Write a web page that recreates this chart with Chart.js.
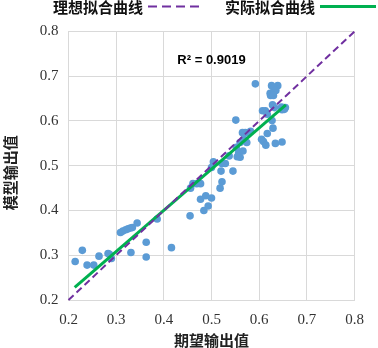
<!DOCTYPE html>
<html>
<head>
<meta charset="utf-8">
<script src="https://cdn.jsdelivr.net/npm/chart.js@4/dist/chart.umd.min.js"></script>
<style>
html,body{margin:0;padding:0;background:#fff;}
#wrap{width:378px;height:348px;position:relative;}
</style>
</head>
<body>
<div id="wrap"><canvas id="c" width="378" height="348"></canvas></div>
<script>
// ---- data ----
const expectedOutput = [0.214,0.229,0.239,0.253,0.264,0.283,0.286,0.290,0.309,0.314,0.320,0.325,0.330,0.334,0.344,0.331,0.363,0.363,0.386,0.416,0.455,0.456,0.461,0.469,0.477,0.477,0.488,0.484,0.493,0.500,0.518,0.522,0.520,0.500,0.504,0.522,0.529,0.545,0.537,0.551,0.554,0.560,0.557,0.566,0.552,0.560,0.568,0.574,0.565,0.571,0.578,0.582,0.592,0.605,0.609,0.614,0.617,0.629,0.627,0.607,0.613,0.617,0.634,0.648,0.626,0.639,0.631,0.623,0.628,0.631,0.635,0.624,0.630,0.628,0.632,0.647,0.653,0.655,0.648];
const modelOutput = [0.286,0.311,0.278,0.278,0.298,0.304,0.302,0.293,0.351,0.354,0.357,0.359,0.361,0.362,0.372,0.306,0.329,0.296,0.381,0.317,0.388,0.450,0.460,0.460,0.460,0.425,0.433,0.400,0.410,0.428,0.450,0.464,0.488,0.496,0.509,0.505,0.505,0.488,0.522,0.602,0.520,0.519,0.529,0.533,0.541,0.552,0.559,0.552,0.574,0.574,0.574,0.577,0.683,0.559,0.554,0.546,0.572,0.584,0.601,0.623,0.623,0.615,0.550,0.553,0.679,0.679,0.674,0.662,0.661,0.666,0.668,0.657,0.657,0.636,0.630,0.631,0.626,0.630,0.625];
const idealX = [0.2, 0.8];
const idealY = [0.2, 0.8];
const fitX = [0.213, 0.656];
const fitY = [0.228, 0.636];
const seriesNames = ['理想拟合曲线', '实际拟合曲线'];
const r2Text = 'R² = 0.9019';
const r2Pos = [0.5, 0.736];
const xTitle = '期望输出值';
const yTitle = '模型输出值';
const axisMin = 0.2, axisMax = 0.8, axisStep = 0.1;

const zip = (xs, ys) => xs.map((x, i) => ({x: x, y: ys[i]}));

const cjkBold = 'bold 15px "Noto Sans CJK SC", sans-serif';

const extrasPlugin = {
  id: 'extras',
  afterDraw(chart) {
    const ctx = chart.ctx;
    const xs = chart.scales.x, ys = chart.scales.y;
    ctx.save();
    // R² label
    ctx.font = 'bold 13px "Liberation Sans", Arial, sans-serif';
    ctx.fillStyle = '#000';
    ctx.textAlign = 'center';
    ctx.textBaseline = 'middle';
    ctx.fillText(r2Text, xs.getPixelForValue(r2Pos[0]), ys.getPixelForValue(r2Pos[1]));
    // y axis title (sits a little below the plot centre, as in the reference)
    ctx.save();
    ctx.font = cjkBold;
    ctx.fillStyle = '#222';
    ctx.translate(10, (chart.chartArea.top + chart.chartArea.bottom) / 2 + 7);
    ctx.rotate(-Math.PI / 2);
    ctx.fillText(yTitle, 0, 0);
    ctx.restore();
    // legend (text then sample line)
    ctx.font = cjkBold;
    ctx.fillStyle = '#111';
    ctx.textAlign = 'left';
    ctx.fillText(seriesNames[0], 53, 7);
    ctx.fillText(seriesNames[1], 225, 7);
    ctx.lineWidth = 2;
    ctx.strokeStyle = '#7030A0';
    ctx.setLineDash([9, 5]);
    ctx.beginPath(); ctx.moveTo(148, 6.5); ctx.lineTo(202, 6.5); ctx.stroke();
    ctx.setLineDash([]);
    ctx.lineWidth = 3;
    ctx.strokeStyle = '#00B050';
    ctx.beginPath(); ctx.moveTo(320, 6.5); ctx.lineTo(376, 6.5); ctx.stroke();
    ctx.restore();
  }
};

const tickFont = {family: '"Liberation Serif", "DejaVu Serif", serif', size: 15};

new Chart(document.getElementById('c'), {
  type: 'scatter',
  data: {
    datasets: [
      {
        type: 'line', label: seriesNames[0], data: zip(idealX, idealY),
        borderColor: '#7030A0', borderWidth: 2, borderDash: [7, 4],
        pointRadius: 0, fill: false, order: 0, clip: 4
      },
      {
        type: 'line', label: seriesNames[1], data: zip(fitX, fitY),
        borderColor: '#00B050', borderWidth: 3,
        pointRadius: 0, fill: false, order: 1
      },
      {
        label: 'data', data: zip(expectedOutput, modelOutput),
        backgroundColor: '#5B9BD5', borderWidth: 0, pointRadius: 3.8,
        order: 2
      }
    ]
  },
  options: {
    responsive: false,
    animation: false,
    layout: {padding: {top: 31.5, right: 23.5, left: 0, bottom: 0}},
    plugins: {legend: {display: false}, tooltip: {enabled: false}},
    scales: {
      x: {
        type: 'linear', min: axisMin, max: axisMax,
        afterFit(s) { s.height = 48; },
        grid: {color: '#d9d9d9', drawTicks: false, lineWidth: 1},
        border: {color: '#d9d9d9'},
        ticks: {stepSize: axisStep, padding: 11, color: '#333', font: tickFont,
          callback: v => Number(v).toFixed(1)},
        title: {display: true, text: xTitle, color: '#222',
          font: {family: '"Noto Sans CJK SC", sans-serif', size: 15, weight: 'bold', lineHeight: 1},
          padding: {top: 0, bottom: 0}}
      },
      y: {
        type: 'linear', min: axisMin, max: axisMax,
        afterFit(s) { s.width = 68.5; },
        grid: {color: '#d9d9d9', drawTicks: false, lineWidth: 1},
        border: {color: '#d9d9d9'},
        ticks: {stepSize: axisStep, padding: 10, color: '#333', font: tickFont,
          callback: v => Number(v).toFixed(1)},
        title: {display: false}
      }
    }
  },
  plugins: [extrasPlugin]
});
</script>
</body>
</html>
